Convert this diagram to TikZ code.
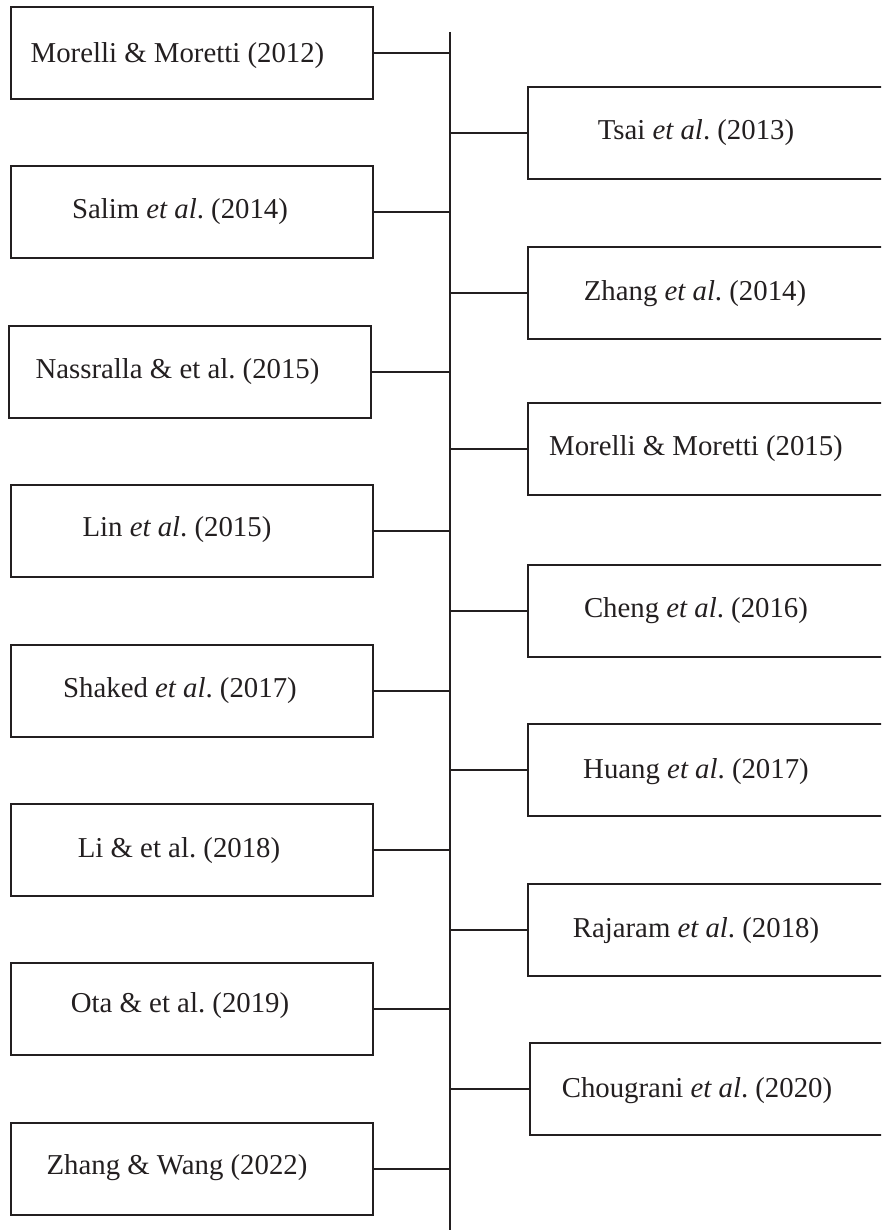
\documentclass[tikz,border=0pt]{standalone}
\usepackage{fontspec}
\setmainfont{Liberation Serif}
\frenchspacing
\definecolor{ink}{HTML}{231F20}
\begin{document}
\begin{tikzpicture}[x=1pt,y=-1pt,
  box/.style={draw=ink, line width=1.8pt, rectangle, minimum height=92pt, inner sep=0pt},
  lbox/.style={box, minimum width=362pt},
  rbox/.style={box, minimum width=420pt, anchor=west},
  lbl/.style={anchor=base, text=ink, inner sep=0pt, font=\fontsize{28.8}{34}\selectfont},
  link/.style={draw=ink, line width=1.8pt}]
\useasboundingbox (0,0) rectangle (881,1230);
\clip (0,0) rectangle (881,1230);

% central time line
\coordinate (top) at (450,32);
\coordinate (bot) at (450,1240);
\draw[link] (top) -- (bot);

% left column
\node[lbox] (L1) at (192,53) {};
\node[lbl] (tL1) at (177.5,63) {Morelli \& Moretti (2012)};
\node[lbox] (L2) at (192,212) {};
\node[lbl] (tL2) at (180,219) {Salim \textit{et al}. (2014)};
\node[lbox] (L3) at (190,372) {};
\node[lbl] (tL3) at (177.5,378) {Nassralla \& et al. (2015)};
\node[lbox] (L4) at (192,531) {};
\node[lbl] (tL4) at (177,536) {Lin \textit{et al}. (2015)};
\node[lbox] (L5) at (192,691) {};
\node[lbl] (tL5) at (180,697) {Shaked \textit{et al}. (2017)};
\node[lbox] (L6) at (192,850) {};
\node[lbl] (tL6) at (179,857) {Li \& et al. (2018)};
\node[lbox] (L7) at (192,1009) {};
\node[lbl] (tL7) at (180,1012) {Ota \& et al. (2019)};
\node[lbox] (L8) at (192,1169) {};
\node[lbl] (tL8) at (177,1174) {Zhang \& Wang (2022)};

% right column (boxes run past the right edge)
\node[rbox] (R1) at (527,133) {};
\node[lbl] (tR1) at (696,140) {Tsai \textit{et al}. (2013)};
\node[rbox] (R2) at (527,293) {};
\node[lbl] (tR2) at (695,301) {Zhang \textit{et al}. (2014)};
\node[rbox] (R3) at (527,449) {};
\node[lbl] (tR3) at (696,455) {Morelli \& Moretti (2015)};
\node[rbox] (R4) at (527,611) {};
\node[lbl] (tR4) at (696,617) {Cheng \textit{et al}. (2016)};
\node[rbox] (R5) at (527,770) {};
\node[lbl] (tR5) at (696,778) {Huang \textit{et al}. (2017)};
\node[rbox] (R6) at (527,930) {};
\node[lbl] (tR6) at (696,937) {Rajaram \textit{et al}. (2018)};
\node[rbox] (R7) at (529,1089) {};
\node[lbl] (tR7) at (697,1097) {Chougrani \textit{et al}. (2020)};

% branches to the time line
\foreach \n in {L1,L2,L3,L4,L5,L6,L7,L8}
  \draw[link] (\n.east) -- (\n.east -| top);
\foreach \n in {R1,R2,R3,R4,R5,R6,R7}
  \draw[link] (\n.west -| top) -- (\n.west);
\end{tikzpicture}
\end{document}
